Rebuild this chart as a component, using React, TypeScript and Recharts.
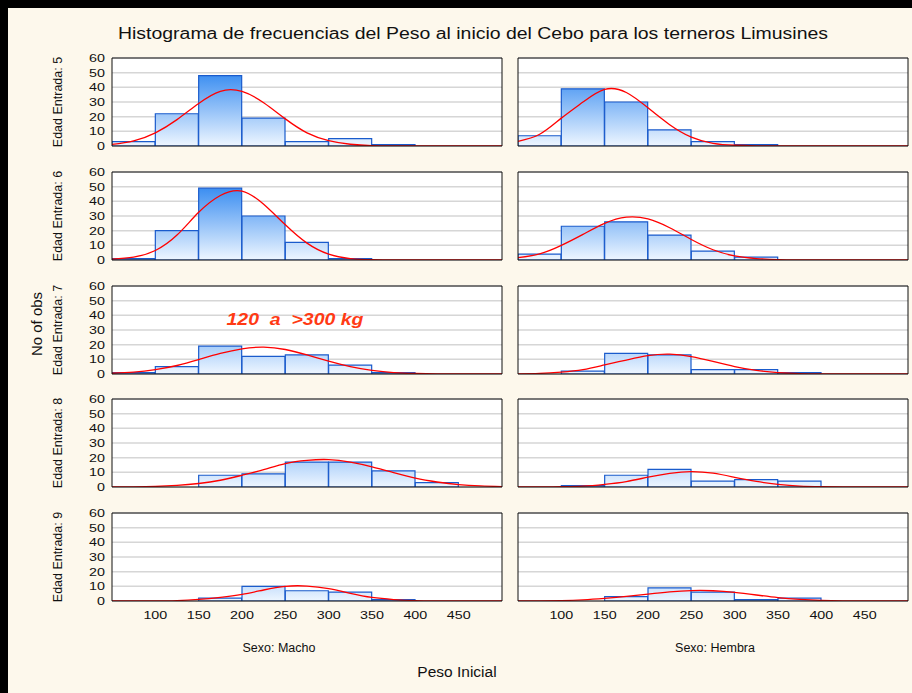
import React from "react";
import { ComposedChart, Bar, Line, XAxis, YAxis, CartesianGrid } from "recharts";

// bins of 50 kg starting at 50; curve sampled every 25 kg
const binCenters = [75, 125, 175, 225, 275, 325, 375, 425, 475];
const curveX = [50, 75, 100, 125, 150, 175, 200, 225, 250, 275, 300, 325, 350, 375, 400, 425, 450, 475, 500];
const xTicks = [100, 150, 200, 250, 300, 350, 400, 450];
const minorTicks = [75, 100, 125, 150, 175, 200, 225, 250, 275, 300, 325, 350, 375, 400, 425, 450, 475];
const yTicks = [0, 10, 20, 30, 40, 50, 60];
const rowLabels = ["Edad Entrada: 5", "Edad Entrada: 6", "Edad Entrada: 7", "Edad Entrada: 8", "Edad Entrada: 9"];

const machoE5 = [3, 22, 48, 19, 3, 5, 1, 0, 0];
const hembraE5 = [7, 39, 30, 11, 3, 1, 0, 0, 0];
const machoE6 = [1, 20, 49, 30, 12, 1, 0, 0, 0];
const hembraE6 = [4, 23, 26, 17, 6, 2, 0, 0, 0];
const machoE7 = [1, 5, 19, 12, 13, 6, 1, 0, 0];
const hembraE7 = [0, 2, 14, 13, 3, 3, 1, 0, 0];
const machoE8 = [0, 0, 8, 9, 17, 17, 11, 3, 0];
const hembraE8 = [0, 1, 8, 12, 4, 5, 4, 0, 0];
const machoE9 = [0, 0, 2, 10, 7, 6, 1, 0, 0];
const hembraE9 = [0, 0, 3, 9, 6, 1, 2, 0, 0];

const fitMachoE5 = [1.1, 3.5, 9, 18, 29, 37.3, 37.2, 29.5, 18.5, 9, 3.7, 1.2, 0.3, 0.1, 0, 0, 0, 0, 0];
const fitHembraE5 = [3.2, 8, 19, 30, 38.6, 36.5, 26, 14.5, 6, 1.8, 0.5, 0.1, 0, 0, 0, 0, 0, 0, 0];
const fitMachoE6 = [0.6, 2, 6.5, 17, 32.5, 44, 47, 38, 24, 11.5, 4, 1, 0.2, 0, 0, 0, 0, 0, 0];
const fitHembraE6 = [1.6, 4.2, 10, 17.5, 25, 29.2, 28, 22, 14, 7, 2.8, 1, 0.3, 0.1, 0, 0, 0, 0, 0];
const fitMachoE7 = [0.5, 1.3, 3, 5.8, 9.8, 14, 17.2, 18.3, 16.7, 13, 8.7, 5, 2.5, 1, 0.4, 0.1, 0, 0, 0];
const fitHembraE7 = [0.1, 0.4, 1.3, 3, 6.2, 9.5, 12.5, 13.5, 11.9, 8.6, 5.1, 2.5, 1, 0.3, 0.1, 0, 0, 0, 0];
const fitMachoE8 = [0.05, 0.15, 0.4, 1.1, 2.4, 4.6, 8, 11.8, 16, 18.2, 18.7, 17, 13.8, 9.8, 6, 3.4, 1.6, 0.7, 0.3];
const fitHembraE8 = [0, 0, 0.2, 0.55, 1.8, 3.7, 6.7, 9.3, 10.5, 9.4, 6.6, 3.8, 1.8, 0.6, 0.2, 0.05, 0, 0, 0];
const fitMachoE9 = [0, 0, 0.05, 0.3, 1.1, 2.5, 4.5, 7.5, 10, 10.2, 8.4, 5.2, 2.4, 1, 0.3, 0.1, 0, 0, 0];
const fitHembraE9 = [0, 0.1, 0.3, 0.8, 1.8, 3.1, 4.7, 6.2, 7.1, 7, 5.9, 4.1, 2.3, 1.1, 0.4, 0.1, 0, 0, 0];

const machoCounts = [machoE5, machoE6, machoE7, machoE8, machoE9];
const hembraCounts = [hembraE5, hembraE6, hembraE7, hembraE8, hembraE9];
const machoFits = [fitMachoE5, fitMachoE6, fitMachoE7, fitMachoE8, fitMachoE9];
const hembraFits = [fitHembraE5, fitHembraE6, fitHembraE7, fitHembraE8, fitHembraE9];

const FONT = "'Liberation Sans', Arial, sans-serif";
const ROW_TOPS = [58, 172, 286, 399, 513];
const PLOT_H = 88;
const M_T = 8;
const M_R = 4;
const M_B = 8;

const YTick = (props: any) => {
  const { x, y, payload } = props;
  return (
    <text
      transform={`translate(${x},${y}) scale(1.3,1)`}
      textAnchor="end"
      dy="0.36em"
      fontSize={11}
      fontFamily={FONT}
      fill="#111"
    >
      {payload.value}
    </text>
  );
};

const XTick = (props: any) => {
  const { x, y, payload } = props;
  return (
    <text
      transform={`translate(${x},${y}) scale(1.3,1)`}
      textAnchor="middle"
      dy="0.71em"
      fontSize={11}
      fontFamily={FONT}
      fill="#111"
    >
      {payload.value}
    </text>
  );
};

function Panel({ counts, fit, plotLeft, plotW, top, showY, showX, id }: any) {
  const yW = showY ? 34 : 0;
  const mL = showY ? 0 : 4;
  const xH = showX ? 30 : 0;
  const width = mL + yW + plotW + M_R;
  const height = M_T + PLOT_H + xH + M_B;
  const gid = `barfill-${id}`;
  const binRows = binCenters.map((x, i) => ({ x, count: counts[i] }));
  const curveRows = curveX.map((x, i) => ({ x, fit: fit[i] }));

  return (
    <div style={{ position: "absolute", left: plotLeft - yW - mL, top: top - M_T }}>
      <ComposedChart
        width={width}
        height={height}
        data={binRows}
        barCategoryGap={0}
        barGap={0}
        margin={{ top: M_T, right: M_R, bottom: M_B, left: mL }}
      >
        <defs>
          <linearGradient id={gid} gradientUnits="userSpaceOnUse" x1="0" y1={M_T} x2="0" y2={M_T + PLOT_H}>
            <stop offset="0" stopColor="#1477ee" />
            <stop offset="1" stopColor="#eef6ff" />
          </linearGradient>
        </defs>
        <CartesianGrid
          xAxisId="x"
          yAxisId="y"
          vertical={false}
          stroke="#d6d6d6"
          strokeWidth={1.5}
          fill="#ffffff"
        />
        <XAxis
          xAxisId="x"
          dataKey="x"
          type="number"
          domain={[50, 500]}
          allowDataOverflow
          ticks={xTicks}
          interval={0}
          hide={!showX}
          height={xH}
          tickLine={false}
          axisLine={false}
          tickSize={6}
          tickMargin={4}
          tick={XTick}
        />
        <XAxis xAxisId="xc" dataKey="x" type="number" domain={[50, 500]} allowDataOverflow hide />
        <XAxis
          xAxisId="xb"
          type="number"
          domain={[50, 500]}
          allowDataOverflow
          ticks={minorTicks}
          interval={0}
          mirror
          tick={false}
          tickSize={3}
          stroke="#111"
        />
        <XAxis
          xAxisId="xt"
          orientation="top"
          type="number"
          domain={[50, 500]}
          allowDataOverflow
          ticks={minorTicks}
          interval={0}
          mirror
          tick={false}
          tickSize={3}
          stroke="#111"
        />
        <YAxis
          yAxisId="y"
          type="number"
          domain={[0, 60]}
          allowDataOverflow
          ticks={yTicks}
          interval={0}
          hide={!showY}
          width={yW}
          tickLine={false}
          axisLine={false}
          tickSize={4}
          tickMargin={3}
          tick={YTick}
        />
        <YAxis
          yAxisId="yl"
          type="number"
          domain={[0, 60]}
          allowDataOverflow
          ticks={yTicks}
          interval={0}
          mirror
          tick={false}
          tickSize={3}
          stroke="#111"
        />
        <YAxis
          yAxisId="yr"
          orientation="right"
          type="number"
          domain={[0, 60]}
          allowDataOverflow
          ticks={yTicks}
          interval={0}
          mirror
          tick={false}
          tickSize={3}
          stroke="#111"
        />
        <Bar
          xAxisId="x"
          yAxisId="y"
          dataKey="count"
          fill={`url(#${gid})`}
          stroke="#1a5bcc"
          strokeWidth={1.2}
          isAnimationActive={false}
        />
        <Line
          xAxisId="xc"
          yAxisId="y"
          data={curveRows}
          dataKey="fit"
          type="natural"
          stroke="#ff0000"
          strokeWidth={1.3}
          dot={false}
          isAnimationActive={false}
        />
      </ComposedChart>
    </div>
  );
}

export default function App() {
  return (
    <div style={{ position: "fixed", left: 0, top: 0, width: 912, height: 693, background: "#000" }}>
      <div
        style={{
          position: "absolute",
          left: 8,
          top: 8,
          width: 904,
          height: 685,
          background: "#fdf8ec",
        }}
      />
      {rowLabels.map((label, r) => (
        <React.Fragment key={label}>
          <Panel
            id={`m${r}`}
            counts={machoCounts[r]}
            fit={machoFits[r]}
            plotLeft={112}
            plotW={390}
            top={ROW_TOPS[r]}
            showY
            showX={r === rowLabels.length - 1}
          />
          <Panel
            id={`h${r}`}
            counts={hembraCounts[r]}
            fit={hembraFits[r]}
            plotLeft={518}
            plotW={390}
            top={ROW_TOPS[r]}
            showY={false}
            showX={r === rowLabels.length - 1}
          />
        </React.Fragment>
      ))}
      <svg
        width={912}
        height={693}
        style={{ position: "absolute", left: 0, top: 0, pointerEvents: "none" }}
      >
        <text
          x={473}
          y={39}
          textAnchor="middle"
          fontSize={16}
          fontFamily={FONT}
          fill="#111"
          textLength={710}
          lengthAdjust="spacingAndGlyphs"
        >
          Histograma de frecuencias del Peso al inicio del Cebo para los terneros Limusines
        </text>
        {rowLabels.map((label, r) => (
          <text
            key={label}
            transform={`translate(61.5,${ROW_TOPS[r] + PLOT_H / 2}) rotate(-90)`}
            textAnchor="middle"
            fontSize={12.5}
            fontFamily={FONT}
            fill="#111"
          >
            {label}
          </text>
        ))}
        <text
          transform="translate(42,324) rotate(-90)"
          textAnchor="middle"
          fontSize={15}
          fontFamily={FONT}
          fill="#111"
        >
          No of obs
        </text>
        <text x={279} y={652} textAnchor="middle" fontSize={12.5} fontFamily={FONT} fill="#111">
          Sexo: Macho
        </text>
        <text x={715} y={652} textAnchor="middle" fontSize={12.5} fontFamily={FONT} fill="#111">
          Sexo: Hembra
        </text>
        <text x={457} y={677} textAnchor="middle" fontSize={15.5} fontFamily={FONT} fill="#111">
          Peso Inicial
        </text>
        <text
          x={295}
          y={325}
          textAnchor="middle"
          fontSize={17}
          fontStyle="italic"
          fontWeight="bold"
          fontFamily={FONT}
          fill="#ff3a14"
          textLength={137}
          lengthAdjust="spacingAndGlyphs"
          style={{ whiteSpace: "pre" }}
        >
          {"120  a  >300 kg"}
        </text>
      </svg>
    </div>
  );
}
